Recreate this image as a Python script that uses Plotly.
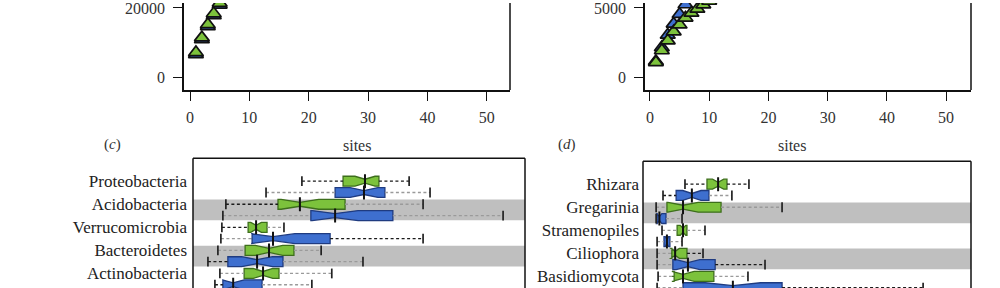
import plotly.graph_objects as go

# ---------------- data ----------------
# (a)/(b) accumulation curves (visible part only)
a_sites_green = [1, 2, 3, 4, 5]
a_vals_green = [7150, 11430, 15230, 18370, 21430]
a_sites_blue = [1, 2, 3, 4, 5]
a_vals_blue = [6600, 10900, 14700, 17850, 20900]

b_sites_green = [1, 2, 3, 4, 5, 6, 7, 8, 9, 10]
b_vals_green = [1070, 1930, 2640, 3290, 3790, 4290, 4640, 4930, 5240, 5500]
b_sites_blue = [1, 2, 3, 4, 5, 6]
b_vals_blue = [1150, 2150, 3050, 3850, 4550, 5250]

# (c) bacteria phyla boxplots  [low whisker, q1, median, q3, high whisker]
c_categories = ["Proteobacteria", "Acidobacteria", "Verrucomicrobia", "Bacteroidetes", "Actinobacteria"]
c_green_lo = [32.8, 9.9, 8.7, 7.5, 8.1]
c_green_q1 = [45.2, 25.6, 16.6, 15.7, 15.4]
c_green_med = [51.8, 32.2, 19.0, 22.9, 21.1]
c_green_q3 = [56.0, 45.8, 22.3, 30.4, 25.9]
c_green_hi = [65.1, 69.3, 27.4, 38.6, 41.8]
c_green_sig_lo = [True, True, True, False, False]
c_green_sig_hi = [True, False, False, False, False]
c_blue_lo = [22.0, 9.0, 8.4, 4.5, 6.6]
c_blue_q1 = [42.8, 35.5, 17.8, 10.5, 9.0]
c_blue_med = [51.5, 42.8, 24.1, 19.3, 12.1]
c_blue_q3 = [57.8, 60.2, 41.3, 27.1, 20.8]
c_blue_hi = [71.4, 93.4, 69.3, 51.2, 35.8]
c_blue_sig_lo = [False, False, False, True, True]
c_blue_sig_hi = [False, False, True, False, False]

# (d) eukaryote groups boxplots
d_categories = ["Rhizara", "Gregarinia", "Stramenopiles", "Ciliophora", "Basidiomycota"]
d_green_lo = [12.8, 4.0, 5.8, 4.3, 4.6]
d_green_q1 = [19.5, 7.3, 10.4, 8.8, 9.5]
d_green_med = [22.9, 12.2, 12.2, 9.8, 12.2]
d_green_q3 = [25.6, 23.8, 13.4, 13.4, 21.6]
d_green_hi = [32.3, 42.4, 18.9, 18.3, 32.0]
d_green_sig_lo = [True, False, False, False, False]
d_green_sig_hi = [True, False, False, True, False]
d_blue_lo = [6.1, 4.0, 4.3, 4.3, 4.3]
d_blue_q1 = [10.1, 4.3, 6.4, 9.1, 12.2]
d_blue_med = [14.9, 5.0, 7.3, 13.7, 27.4]
d_blue_q3 = [20.1, 7.0, 8.2, 22.0, 42.4]
d_blue_hi = [27.1, 11.9, 11.9, 37.2, 85.4]
d_blue_sig_lo = [True, False, False, False, False]
d_blue_sig_hi = [False, False, False, True, True]

# ---------------- style ----------------
FONT = "Liberation Serif"
GREEN = "#7cc23c"
GREEN_EDGE = "#3d6e1c"
BLUE = "#3e6fcf"
BLUE_EDGE = "#1f3b80"
BAND = "#bfbfbf"
W, H = 1000, 288

fig = go.Figure()


def px_x(p):
    return p / W


def px_y(p):
    return 1 - p / H


# ---------- top panels ----------
def add_curve(xs, ys, color, xa, ya):
    fig.add_trace(go.Scatter(
        x=xs, y=ys, mode="markers", xaxis=xa, yaxis=ya, showlegend=False,
        marker=dict(symbol="triangle-up", size=13, color=color,
                    line=dict(color="#111", width=1.7))))


add_curve(a_sites_blue, a_vals_blue, BLUE, "x", "y")
add_curve(a_sites_green, a_vals_green, GREEN, "x", "y")
add_curve(b_sites_blue, b_vals_blue, BLUE, "x2", "y2")
add_curve(b_sites_green, b_vals_green, GREEN, "x2", "y2")


# ---------- box panels ----------
def add_boxes(xa, ya, cats, stats_g, stats_b, sig_g, sig_b):
    n = len(cats)
    pos_g = [k - 0.245 for k in range(n)]
    pos_b = [k + 0.245 for k in range(n)]
    for pos, st, fill, edge in [(pos_g, stats_g, GREEN, GREEN_EDGE), (pos_b, stats_b, BLUE, BLUE_EDGE)]:
        lo, q1, med, q3, hi = st
        notch = [min(0.28 * (b - a), m - a + 0.8, b - m + 0.8) for a, m, b in zip(q1, med, q3)]
        sl, sh = sig_g if fill == GREEN else sig_b
        # whiskers
        for sigset, col in [(True, "#1a1a1a"), (False, "#9a9a9a")]:
            xs, ys = [], []
            for i in range(n):
                if sl[i] == sigset:
                    xs += [lo[i], q1[i], None]
                    ys += [pos[i], pos[i], None]
                if sh[i] == sigset:
                    xs += [q3[i], hi[i], None]
                    ys += [pos[i], pos[i], None]
            fig.add_trace(go.Scatter(x=xs, y=ys, mode="lines", xaxis=xa, yaxis=ya, showlegend=False,
                                     line=dict(color=col, width=1.3, dash="3px,2.5px")))
        # caps
        fig.add_trace(go.Scatter(x=lo + hi, y=pos + pos, mode="markers", xaxis=xa, yaxis=ya, showlegend=False,
                                 marker=dict(symbol="line-ns-open", size=7, color="#222",
                                             line=dict(color="#222", width=1.7))))
        fig.add_trace(go.Box(
            orientation="h", y=pos, q1=q1, median=med, q3=q3, lowerfence=q1, upperfence=q3,
            notched=True, notchspan=notch, notchwidth=0.3, width=0.43, whiskerwidth=0,
            fillcolor=fill, line=dict(color=edge, width=1.3), boxpoints=False,
            xaxis=xa, yaxis=ya, showlegend=False))
        fig.add_trace(go.Scatter(x=med, y=pos, mode="markers", xaxis=xa, yaxis=ya, showlegend=False,
                                 marker=dict(symbol="line-ns-open", size=10, color="#111",
                                             line=dict(color="#111", width=2))))
    return pos_g


pos_c = add_boxes("x3", "y3", c_categories,
                  (c_green_lo, c_green_q1, c_green_med, c_green_q3, c_green_hi),
                  (c_blue_lo, c_blue_q1, c_blue_med, c_blue_q3, c_blue_hi),
                  (c_green_sig_lo, c_green_sig_hi), (c_blue_sig_lo, c_blue_sig_hi))
pos_d = add_boxes("x4", "y4", d_categories,
                  (d_green_lo, d_green_q1, d_green_med, d_green_q3, d_green_hi),
                  (d_blue_lo, d_blue_q1, d_blue_med, d_blue_q3, d_blue_hi),
                  (d_green_sig_lo, d_green_sig_hi), (d_blue_sig_lo, d_blue_sig_hi))

shapes = []
for ya, cats in [("y3", c_categories), ("y4", d_categories)]:
    xa = "x3" if ya == "y3" else "x4"
    for k in range(len(cats)):
        if k % 2 == 1:
            shapes.append(dict(type="rect", xref=f"{xa} domain", yref=ya, x0=0, x1=1,
                               y0=k - 0.45, y1=k + 0.45, fillcolor=BAND, line=dict(width=0), layer="below"))
    for (x0, y0, x1, y1) in [(0, 0, 0, 1), (0, 1, 1, 1), (1, 0, 1, 1)]:
        shapes.append(dict(type="line", xref=f"{xa} domain", yref=f"{ya} domain",
                           x0=x0, y0=y0, x1=x1, y1=y1, line=dict(color="#111", width=1.5)))
for xa, ya in [("x", "y"), ("x2", "y2")]:
    shapes.append(dict(type="line", xref=f"{xa} domain", yref=f"{ya} domain",
                       x0=1, y0=0, x1=1, y1=1, line=dict(color="#111", width=1.5)))

tickfont = dict(family=FONT, size=16, color="#333")
top_x = dict(ticks="outside", ticklen=9, tickwidth=1.3, tickcolor="#111", showline=True, linecolor="#111",
             linewidth=1.5, showgrid=False, zeroline=False, tickvals=[0, 10, 20, 30, 40, 50],
             tickfont=tickfont, ticklabelstandoff=3, ticklabeloverflow="allow")
top_y = dict(ticks="outside", ticklen=9, tickwidth=1.3, tickcolor="#111", showline=True, linecolor="#111",
             linewidth=1.5, showgrid=False, zeroline=False, tickfont=tickfont, ticklabelstandoff=5,
             ticklabeloverflow="allow")

catfont = dict(family=FONT, size=17, color="#222")

fig.update_layout(
    width=W, height=H, margin=dict(l=0, r=0, t=0, b=0),
    paper_bgcolor="white", plot_bgcolor="white", boxmode="overlay",
    xaxis=dict(domain=[px_x(184), px_x(510)], range=[-1.01, 53.9], anchor="y", **top_x),
    yaxis=dict(domain=[px_y(88), 1], range=[-3714, 21429], anchor="x", tickvals=[0, 20000, 40000],
               ticktext=["0", "20000", "40000"], **top_y),
    xaxis2=dict(domain=[px_x(645), px_x(971)], range=[-0.84, 54.2], anchor="y2", **top_x),
    yaxis2=dict(domain=[px_y(88), 1], range=[-929, 5357], anchor="x2", tickvals=[0, 5000, 10000],
                ticktext=["0", "5000", "10000"], **top_y),
    xaxis3=dict(domain=[px_x(193), px_x(525)], range=[0, 100], anchor="y3", visible=False),
    yaxis3=dict(domain=[0, px_y(157)], range=[4.386, -1.236], anchor="x3", tickvals=pos_c,
                ticktext=c_categories, ticks="", showgrid=False, zeroline=False, showline=False,
                tickfont=catfont, ticklabelstandoff=5, ticklabeloverflow="allow"),
    xaxis4=dict(domain=[px_x(643), px_x(971)], range=[0, 100], anchor="y4", visible=False),
    yaxis4=dict(domain=[0, px_y(160)], range=[4.258, -1.236], anchor="x4", tickvals=pos_d,
                ticktext=d_categories, ticks="", showgrid=False, zeroline=False, showline=False,
                tickfont=catfont, ticklabelstandoff=3, ticklabeloverflow="allow"),
    shapes=shapes,
    annotations=[
        dict(text="sites", x=px_x(357), y=px_y(144), xref="paper", yref="paper", showarrow=False,
             font=dict(family=FONT, size=16, color="#333")),
        dict(text="sites", x=px_x(808), y=px_y(144), xref="paper", yref="paper", showarrow=False,
             font=dict(family=FONT, size=16, color="#333")),
        dict(text="(<i>c</i>)", x=px_x(102), y=px_y(143), xref="paper", yref="paper", showarrow=False,
             font=dict(family=FONT, size=15, color="#333")),
        dict(text="(<i>d</i>)", x=px_x(567), y=px_y(143), xref="paper", yref="paper", showarrow=False,
             font=dict(family=FONT, size=15, color="#333")),
    ],
)

fig.write_html("out.html")
